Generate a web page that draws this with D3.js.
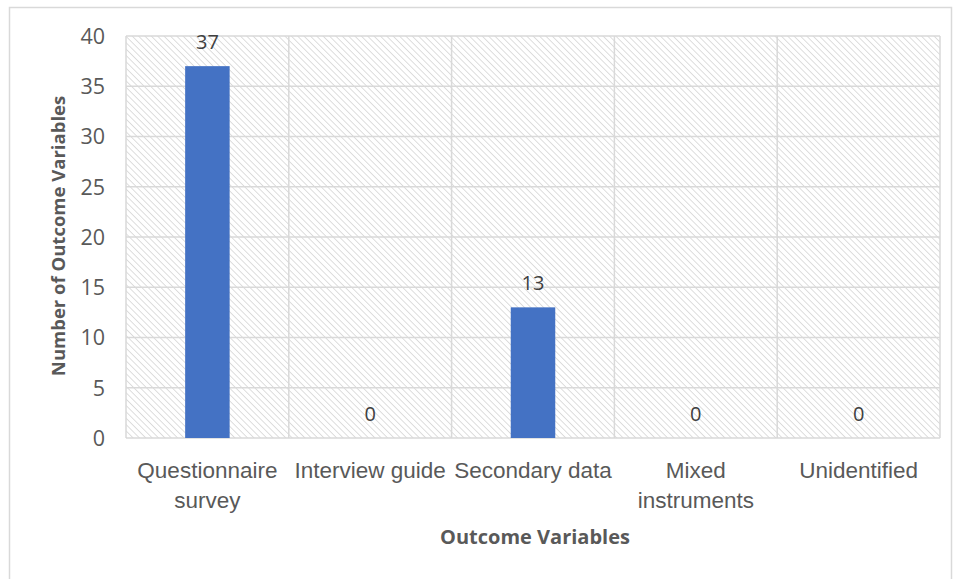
<!DOCTYPE html>
<html>
<head>
<meta charset="utf-8">
<script src="https://cdn.jsdelivr.net/npm/d3@7"></script>
<style>
  html, body { margin: 0; padding: 0; background: #fff; }
  svg { display: block; font-family: "Open Sans", "Noto Sans", sans-serif; }
</style>
</head>
<body>
<svg id="chart" width="958" height="579"></svg>
<script>
// Instruments used to measure outcome variables
const categories = [
  ["Questionnaire", "survey"],
  ["Interview guide"],
  ["Secondary data"],
  ["Mixed", "instruments"],
  ["Unidentified"]
];
const counts = [37, 0, 13, 0, 0];
const yTicks = [0, 5, 10, 15, 20, 25, 30, 35, 40];
const xTitle = "Outcome Variables";
const yTitle = "Number of Outcome Variables";

const svg = d3.select("#chart");
const W = 958, H = 579;
const plot = { left: 126, right: 940, top: 36, bottom: 438 };

svg.append("rect").attr("width", W).attr("height", H).attr("fill", "#fff");

// outer chart frame
svg.append("rect")
  .attr("x", 9.5).attr("y", 7.5)
  .attr("width", 942).attr("height", 580)
  .attr("fill", "none").attr("stroke", "#d9d9d9").attr("stroke-width", 1.5);

// diagonal hatch fill for the plot area
const defs = svg.append("defs");
const pat = defs.append("pattern")
  .attr("id", "hatch")
  .attr("patternUnits", "userSpaceOnUse")
  .attr("width", 4.5).attr("height", 4.5)
  .attr("patternTransform", "rotate(-45)");
pat.append("line")
  .attr("x1", 0).attr("y1", 0).attr("x2", 0).attr("y2", 4.5)
  .attr("stroke", "#d0d0d0").attr("stroke-width", 1.4);

const idx = d3.range(categories.length);
const x = d3.scaleBand().domain(idx).range([plot.left, plot.right]).paddingInner(0).paddingOuter(0);
const y = d3.scaleLinear().domain([0, 40]).range([plot.bottom, plot.top]);

svg.append("rect")
  .attr("x", plot.left).attr("y", plot.top)
  .attr("width", plot.right - plot.left).attr("height", plot.bottom - plot.top)
  .attr("fill", "url(#hatch)");

// horizontal gridlines
const grid = svg.append("g").attr("stroke", "#d9d9d9").attr("stroke-width", 1.5);
grid.selectAll("line.h").data(yTicks).join("line")
  .attr("class", "h")
  .attr("x1", plot.left).attr("x2", plot.right)
  .attr("y1", d => y(d)).attr("y2", d => y(d));

// vertical category gridlines
const vEdges = idx.map(i => x(i)).concat([plot.right]);
grid.selectAll("line.v").data(vEdges).join("line")
  .attr("class", "v")
  .attr("y1", plot.top).attr("y2", plot.bottom)
  .attr("x1", d => d).attr("x2", d => d);

// y axis tick labels
const yAxis = d3.axisLeft(y).tickValues(yTicks).tickSize(0).tickPadding(21);
const gy = svg.append("g").attr("transform", `translate(${plot.left},0)`).call(yAxis);
gy.select(".domain").remove();
gy.selectAll("text")
  .attr("fill", "#595959").attr("font-size", 21.5).attr("dy", "0.34em")
  .attr("font-family", "Open Sans, sans-serif");

// bars
const barW = 44.5;
svg.append("g").selectAll("rect").data(counts).join("rect")
  .attr("x", (d, i) => x(i) + x.bandwidth() / 2 - barW / 2)
  .attr("width", barW)
  .attr("y", d => y(d))
  .attr("height", d => plot.bottom - y(d))
  .attr("fill", "#4472c4");

// value labels
svg.append("g").selectAll("text").data(counts).join("text")
  .attr("x", (d, i) => x(i) + x.bandwidth() / 2)
  .attr("y", d => y(d) - 17)
  .attr("text-anchor", "middle")
  .attr("fill", "#404040").attr("font-size", 20)
  .text(d => d);

// category labels
const xAxis = d3.axisBottom(x).tickSize(0).tickFormat(() => "");
const gx = svg.append("g").attr("transform", `translate(0,${plot.bottom})`).call(xAxis);
gx.select(".domain").remove();
gx.selectAll(".tick").each(function (i) {
  const t = d3.select(this).append("text")
    .attr("text-anchor", "middle")
    .attr("fill", "#595959").attr("font-size", 22.5);
  categories[i].forEach((line, k) => {
    t.append("tspan").attr("x", 0).attr("y", 39.5 + k * 30).text(line);
  });
});

// axis titles
svg.append("text")
  .attr("x", 535).attr("y", 544)
  .attr("text-anchor", "middle")
  .attr("fill", "#595959").attr("font-size", 20).attr("font-weight", "bold")
  .text(xTitle);

svg.append("text")
  .attr("transform", `translate(65,236) rotate(-90)`)
  .attr("text-anchor", "middle")
  .attr("fill", "#595959").attr("font-size", 18.5).attr("font-weight", "bold")
  .text(yTitle);
</script>
</body>
</html>
